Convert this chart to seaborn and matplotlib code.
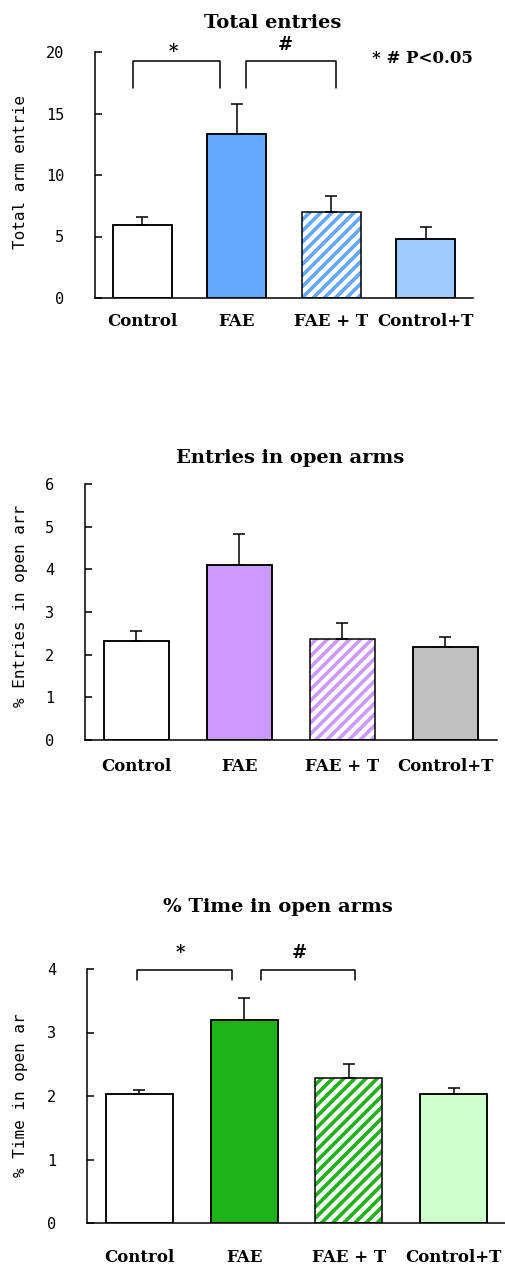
import matplotlib
matplotlib.use("Agg")
import matplotlib.pyplot as plt
import matplotlib.transforms as mtransforms
import seaborn as sns
import numpy as np

# ---------------- data ----------------
categories = ["Control", "FAE", "FAE + T", "Control+T"]

total_entries = [5.9, 13.3, 7.0, 4.8]
total_entries_err = [0.7, 2.45, 1.3, 0.95]

open_entries = [2.31, 4.11, 2.37, 2.17]
open_entries_err = [0.24, 0.71, 0.37, 0.24]

open_time = [2.03, 3.19, 2.28, 2.03]
open_time_err = [0.06, 0.35, 0.22, 0.10]

titles = ["Total entries", "Entries in open arms", "% Time in open arms"]
ylabels = ["Total arm entrie", "% Entries in open arr", "% Time in open ar"]
yticks_list = [[0, 5, 10, 15, 20], [0, 1, 2, 3, 4, 5, 6], [0, 1, 2, 3, 4]]
ylims = [(0, 20), (0, 6), (0, 4)]

colors_p1 = ["#FFFFFF", "#62A8FF", "#62A8FF", "#9CCCFF"]
colors_p2 = ["#FFFFFF", "#CC99FF", "#CC99FF", "#C0C0C0"]
colors_p3 = ["#FFFFFF", "#1FB31A", "#1FB31A", "#CCFFCC"]
hatched = [False, False, True, False]

# significance brackets: (x_left, x_right, y_top, y_leg, symbol, sym_x, sym_y)
brackets_p1 = [(-0.1, 0.82, 19.3, 17.1, "*", 0.33, 20.0),
               (1.1, 2.05, 19.3, 17.1, "#", 1.51, 20.6)]
brackets_p3 = [(-0.02, 0.88, 3.98, 3.82, "*", 0.39, 4.25),
               (1.16, 2.06, 3.98, 3.82, "#", 1.53, 4.25)]

# ---------------- style ----------------
sns.set_style("white")
plt.rcParams["font.family"] = ["DejaVu Sans"]
plt.rcParams["text.color"] = "black"
plt.rcParams["xtick.color"] = "black"
plt.rcParams["ytick.color"] = "black"
plt.rcParams["axes.labelcolor"] = "black"
plt.rcParams["hatch.linewidth"] = 2.6

W, H = 506, 1272
fig = plt.figure(figsize=(W / 100, H / 100), dpi=100)

axes_px = [(95, 298, 378, 246), (85, 740, 412, 256), (87, 1223, 419, 254)]
title_cfg = [(0.471, 17), (0.497, 15), (0.456, 41)]
ylabel_x = [-0.177, -0.138, -0.141]
ylabel_y = [0.512, 0.523, 0.504]
xlabel_pad = [11, 13, 19]
bar_widths = [0.62, 0.64, 0.64]

serif_bold = dict(family="DejaVu Serif", weight="bold")

datasets = [
    (total_entries, total_entries_err, colors_p1, brackets_p1),
    (open_entries, open_entries_err, colors_p2, None),
    (open_time, open_time_err, colors_p3, brackets_p3),
]

for i, (vals, errs, cols, brackets) in enumerate(datasets):
    l, b, w, h = axes_px[i]
    ax = fig.add_axes([l / W, (H - b) / H, w / W, h / H])

    sns.barplot(x=categories, y=vals, hue=categories, palette=cols,
                legend=False, saturation=1, width=bar_widths[i],
                errorbar=None, edgecolor="black", linewidth=1.1, ax=ax)

    # hatched bar: stripes in colour, outline drawn by second layer
    for p, c, hz in zip(ax.patches, cols, hatched):
        if hz:
            p.set_facecolor("white")
            p.set_hatch("///")
            p.set_edgecolor(c)
            p.set_linewidth(0)

    # outline layer
    sns.barplot(x=categories, y=vals, fill=False, color="black",
                width=bar_widths[i], errorbar=None, linewidth=1.1, ax=ax)

    # upward error bars
    ax.errorbar(x=np.arange(len(categories)), y=vals,
                yerr=[np.zeros(len(errs)), errs], fmt="none",
                ecolor="black", elinewidth=1.1, capsize=4.5, capthick=1.1,
                zorder=1)

    ax.set_ylim(*ylims[i])
    ax.set_xlim(-0.5, 3.5)
    ax.set_yticks(yticks_list[i])
    ax.set_yticklabels([str(t) for t in yticks_list[i]],
                       family="DejaVu Sans Mono", fontsize=11)
    ax.set_xticks(range(len(categories)))
    ax.set_xticklabels(categories, fontsize=12, **serif_bold)
    ax.set_xticks([0.5, 1.5, 2.5, 3.5], minor=True)
    ax.tick_params(axis="x", which="major", length=0, pad=xlabel_pad[i])
    ax.tick_params(axis="x", which="minor", direction="in", length=5,
                   width=1.1, color="black")
    ax.tick_params(axis="y", direction="in", length=5, width=1.1,
                   color="black", pad=22, left=True)
    for s in ["top", "right"]:
        ax.spines[s].set_visible(False)
    for s in ["left", "bottom"]:
        ax.spines[s].set_color("black")
        ax.spines[s].set_linewidth(1.1)

    ax.set_xlabel("")
    ax.set_ylabel(ylabels[i], family="DejaVu Sans Mono", fontsize=11.5,
                  color="black")
    ax.yaxis.set_label_coords(ylabel_x[i], ylabel_y[i])

    tx, tpad = title_cfg[i]
    ax.set_title(titles[i], x=tx, pad=tpad, fontsize=14, color="black",
                 **serif_bold)

    if brackets:
        for (x0, x1, yt, yl, sym, sx, sy) in brackets:
            ax.plot([x0, x0, x1, x1], [yl, yt, yt, yl], color="black",
                    lw=1.1, clip_on=False)
            ax.text(sx, sy, sym, ha="center", va="center", fontsize=13,
                    clip_on=False, color="black", **serif_bold)

    if i == 0:
        trans = mtransforms.blended_transform_factory(ax.transAxes, ax.transData)
        ax.text(1.0, 19.5, "* # P<0.05", transform=trans, ha="right",
                va="center", fontsize=12, color="black", **serif_bold)

fig.savefig("out.png", dpi=100)
